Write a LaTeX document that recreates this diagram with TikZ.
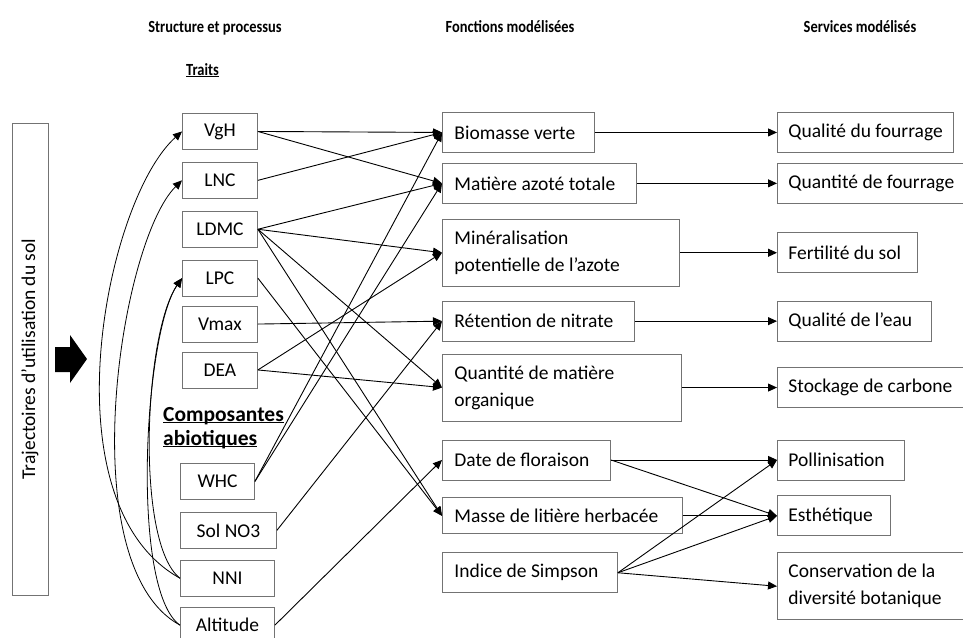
\documentclass[tikz,border=0pt]{standalone}
\usepackage{fontspec}
\setmainfont{Carlito}
\usetikzlibrary{arrows.meta,positioning}

\begin{document}
\begin{tikzpicture}[x=1pt,y=-1pt,node distance=12pt,
    every node/.style={font=\fontsize{19.5}{27}\selectfont},
    trait/.style={draw=black!55,line width=0.9pt,minimum width=75pt,minimum height=36pt,inner sep=0pt},
    fonction/.style={draw=black!55,line width=0.9pt,align=flush left,inner xsep=12pt,inner ysep=0pt,minimum height=40pt,text width=#1},
    service/.style={draw=black!55,line width=0.9pt,align=flush left,inner xsep=11pt,inner ysep=0pt,minimum height=40pt,anchor=west},
    titre/.style={font=\fontsize{17}{20}\selectfont\bfseries},
    lien/.style={-{Triangle[length=9pt,width=8pt]},line width=0.9pt},
    courbe/.style={-{Triangle[length=9pt,width=8pt]},line width=0.8pt}]
  \useasboundingbox (0,0) rectangle (963,637);

  % titres
  \node[titre,anchor=base] (t1) at (215,32) {\scalebox{0.85}[1]{Structure et processus}};
  \node[titre,anchor=base] (t2) at (510,32) {\scalebox{0.85}[1]{Fonctions modélisées}};
  \node[titre,anchor=base] (t3) at (860,32) {\scalebox{0.85}[1]{Services modélisés}};
  \node[titre,anchor=base west,inner sep=0pt] (traits) at (186,75) {\scalebox{0.85}[1]{\underline{\smash{Traits}}}};
  \node[font=\fontsize{21.5}{24}\selectfont\bfseries,anchor=north west,align=flush left,inner sep=0pt] (abio) at (163,421)
    {\underline{\smash{Composantes}}\\\underline{\smash{abiotiques}}};

  % trajectoires
  \node[draw=black!55,line width=0.9pt,rotate=90,minimum width=472pt,minimum height=36pt,inner sep=0pt] (traj) at (30,359)
    {Trajectoires d’utilisation du sol};
  \fill (55,347) -- (70,347) -- (70,335) -- (87,359) -- (70,383) -- (70,372) -- (55,372) -- cycle;

  % traits
  \node[trait,anchor=north west] (vgh) at (182,113) {VgH};
  \node[trait,below=of vgh] (lnc) {LNC};
  \node[trait,below=of lnc] (ldmc) {LDMC};
  \node[trait,below=of ldmc] (lpc) {LPC};
  \node[trait,below=9pt of lpc] (vmax) {Vmax};
  \node[trait,below=9pt of vmax] (dea) {DEA};

  % composantes abiotiques
  \node[trait,minimum width=74pt,anchor=north west] (whc) at (180,463) {WHC};
  \node[trait,minimum width=96pt,below=12pt of whc.south west,anchor=north west] (sol) {Sol NO3};
  \node[trait,minimum width=94pt,below=11pt of sol.south west,anchor=north west] (nni) {NNI};
  \node[trait,minimum width=94pt,below=10pt of nni.south west,anchor=north west] (alt) {Altitude};

  % fonctions
  \node[fonction=128pt,anchor=north west] (bio) at (442,112) {Biomasse verte};
  \node[fonction=170pt,below=10pt of bio.south west,anchor=north west] (mat) {Matière azoté totale};
  \node[fonction=213pt,minimum height=67pt,below=15pt of mat.south west,anchor=north west] (min) {Minéralisation\\potentielle de l’azote};
  \node[fonction=168pt,below=14pt of min.south west,anchor=north west] (ret) {Rétention de nitrate};
  \node[fonction=215pt,minimum height=67pt,below=12pt of ret.south west,anchor=north west] (qmo) {Quantité de matière\\organique};
  \node[fonction=144pt,below=18pt of qmo.south west,anchor=north west] (date) {Date de floraison};
  \node[fonction=216pt,minimum height=36pt,below=17pt of date.south west,anchor=north west] (masse) {Masse de litière herbacée};
  \node[fonction=151pt,below=18pt of masse.south west,anchor=north west] (simp) {Indice de Simpson};

  % services
  \coordinate (col3) at (777,0);
  \node[service] (qdf) at (bio -| col3) {Qualité du fourrage};
  \node[service] (qtf) at (mat -| col3) {Quantité de fourrage};
  \node[service,text width=118pt] (fert) at (min -| col3) {Fertilité du sol};
  \node[service,text width=132pt] (eau) at (ret -| col3) {Qualité de l’eau};
  \node[service] (stock) at (qmo -| col3) {Stockage de carbone};
  \node[service,text width=105pt] (poll) at (date -| col3) {Pollinisation};
  \node[service,text width=91pt] (esth) at (masse -| col3) {Esthétique};
  \node[service,minimum height=67pt,text width=164pt,below=16pt of esth.south west,anchor=north west] (cons) {Conservation de la\\diversité botanique};

  % liens structure -> fonctions
  \draw[lien] (vgh.east) -- (bio.west);
  \draw[lien] (vgh.east) -- (mat.west);
  \draw[lien] (lnc.east) -- (bio.west);
  \draw[lien] (ldmc.east) -- (mat.west);
  \draw[lien] (ldmc.east) -- (min.west);
  \draw[lien] (ldmc.east) -- (qmo.west);
  \draw[lien] (ldmc.east) -- (masse.west);
  \draw[lien] (lpc.east) -- (masse.west);
  \draw[lien] (vmax.east) -- (ret.west);
  \draw[lien] (dea.east) -- (min.west);
  \draw[lien] (dea.east) -- (qmo.west);
  \draw[lien] (whc.east) -- (bio.west);
  \draw[lien] (whc.east) -- (mat.west);
  \draw[lien] (sol.east) -- (ret.west);
  \draw[lien] (alt.east) -- (date.west);

  % liens fonctions -> services
  \draw[lien] (bio.east) -- (qdf.west);
  \draw[lien] (mat.east) -- (qtf.west);
  \draw[lien] (min.east) -- (fert.west);
  \draw[lien] (ret.east) -- (eau.west);
  \draw[lien] (qmo.east) -- (stock.west);
  \draw[lien] (date.east) -- (poll.west);
  \draw[lien] (date.east) -- (esth.west);
  \draw[lien] (masse.east) -- (esth.west);
  \draw[lien] (simp.east) -- (poll.west);
  \draw[lien] (simp.east) -- (esth.west);
  \draw[lien] (simp.east) -- (cons.west);

  % composantes abiotiques -> traits
  \draw[courbe] (nni.west) .. controls +(-135,-75) and +(-77,69) .. (vgh.west);
  \draw[courbe] (alt.west) .. controls +(-110,-60) and +(-62,61) .. (lnc.west);
  \draw[courbe] (nni.west) .. controls +(-45,-35) and +(-38,55) .. (lpc.west);
  \draw[courbe] (alt.west) .. controls +(-50,-35) and +(-38,55) .. (lpc.west);
\end{tikzpicture}
\end{document}
